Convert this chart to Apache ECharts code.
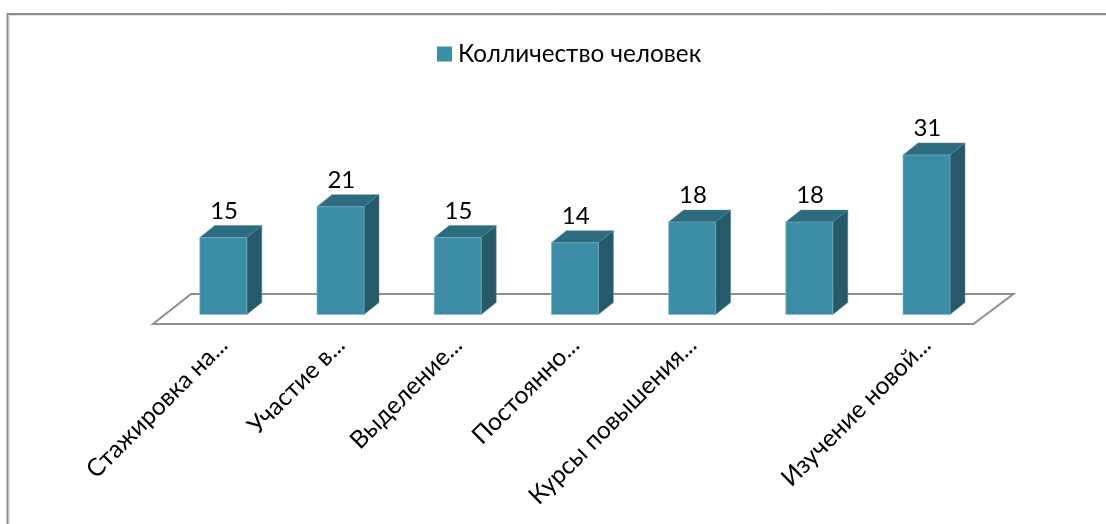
<!DOCTYPE html>
<html><head><meta charset="utf-8">
<style>html,body{margin:0;padding:0;background:#fff}#c{width:1106px;height:524px}</style>
<script src="https://cdn.jsdelivr.net/npm/echarts@6/dist/echarts.min.js"></script>
</head><body><div id="c"></div>
<script>
const categories = ['Стажировка на...', 'Участие в...', 'Выделение...', 'Постоянно...', 'Курсы повышения...', '', 'Изучение новой...'];
const seriesName = 'Колличество человек';
const values = [15, 21, 15, 14, 18, 18, 31];
const FONT = 'Lato, "Noto Sans", sans-serif';
const chart = echarts.init(document.getElementById('c'), null, {renderer: 'canvas'});
const DX = 15, DY = 12;
chart.setOption({
  animation: false,
  backgroundColor: '#fff',
  color: ['#3d8ca6'],
  graphic: [
    {type: 'polyline', silent: true, z: 0, shape: {points: [[9.5, 524], [9.5, 15.5], [1106, 15.5]]}, style: {stroke: '#e2e2e2', lineWidth: 1, fill: null}},
    {type: 'polyline', silent: true, z: 0, shape: {points: [[7.5, 524], [7.5, 14], [1106, 14]]}, style: {stroke: '#8c8c8c', lineWidth: 2, fill: null}}
  ],
  legend: {
    left: 432, top: 37, itemWidth: 15, itemHeight: 15, icon: 'rect',
    data: [seriesName],
    textStyle: {fontFamily: FONT, fontSize: 24.3, color: '#000', padding: [0, 0, 0, 1]}
  },
  grid: {left: 165, width: 820.4, top: 108.6, height: 206.4},
  xAxis: {
    type: 'category', data: categories,
    axisLine: {show: false}, axisTick: {show: false}, splitLine: {show: false},
    axisLabel: {interval: 0, rotate: 45, margin: 26, fontFamily: FONT, fontSize: 24.5, color: '#000'}
  },
  yAxis: {type: 'value', min: 0, max: 40, interval: 10, show: false},
  series: [
    {
      type: 'custom', name: 'floor', silent: true, z: 1, data: [0], clip: false,
      renderItem(params, api) {
        const cs = params.coordSys;
        const yBack = cs.y + cs.height - 21, yFront = cs.y + cs.height + 9;
        return {type: 'polygon', shape: {points: [
          [cs.x - 12, yFront], [cs.x + 26, yBack], [cs.x + cs.width + 28, yBack], [cs.x + cs.width - 12, yFront]
        ]}, style: {fill: '#fff', stroke: '#8f8f8f', lineWidth: 2}};
      }
    },
    {
      type: 'custom', name: seriesName, z: 2, clip: false,
      encode: {x: 0, y: 1},
      data: values.map((v, i) => [i, v]),
      renderItem(params, api) {
        const p0 = api.coord([api.value(0), 0]);
        const p1 = api.coord([api.value(0), api.value(1)]);
        const w = 47;
        const l = p0[0] - w / 2 - 0.3, r = l + w, b = p0[1] - 0.5, t = p1[1];
        return {type: 'group', children: [
          {type: 'polygon', shape: {points: [[l, t], [l + DX, t - DY], [r + DX, t - DY], [r, t]]}, style: {fill: '#2e6b7e', stroke: '#4f8a9c', lineWidth: 0.5}},
          {type: 'polygon', shape: {points: [[r, t], [r + DX, t - DY], [r + DX, b - DY], [r, b]]}, style: {fill: '#265a68', stroke: '#4f8a9c', lineWidth: 0.5}},
          {type: 'rect', shape: {x: l, y: t, width: w, height: b - t}, style: {fill: '#3d8ca6', stroke: '#7fb8c9', lineWidth: 0.6}},
          {type: 'text', style: {x: p0[0] + 0.5, y: t - DY - 2.5, text: String(api.value(1)), fill: '#000', font: '24px ' + FONT, textAlign: 'center', textVerticalAlign: 'bottom'}}
        ]};
      }
    }
  ]
});
</script></body></html>
